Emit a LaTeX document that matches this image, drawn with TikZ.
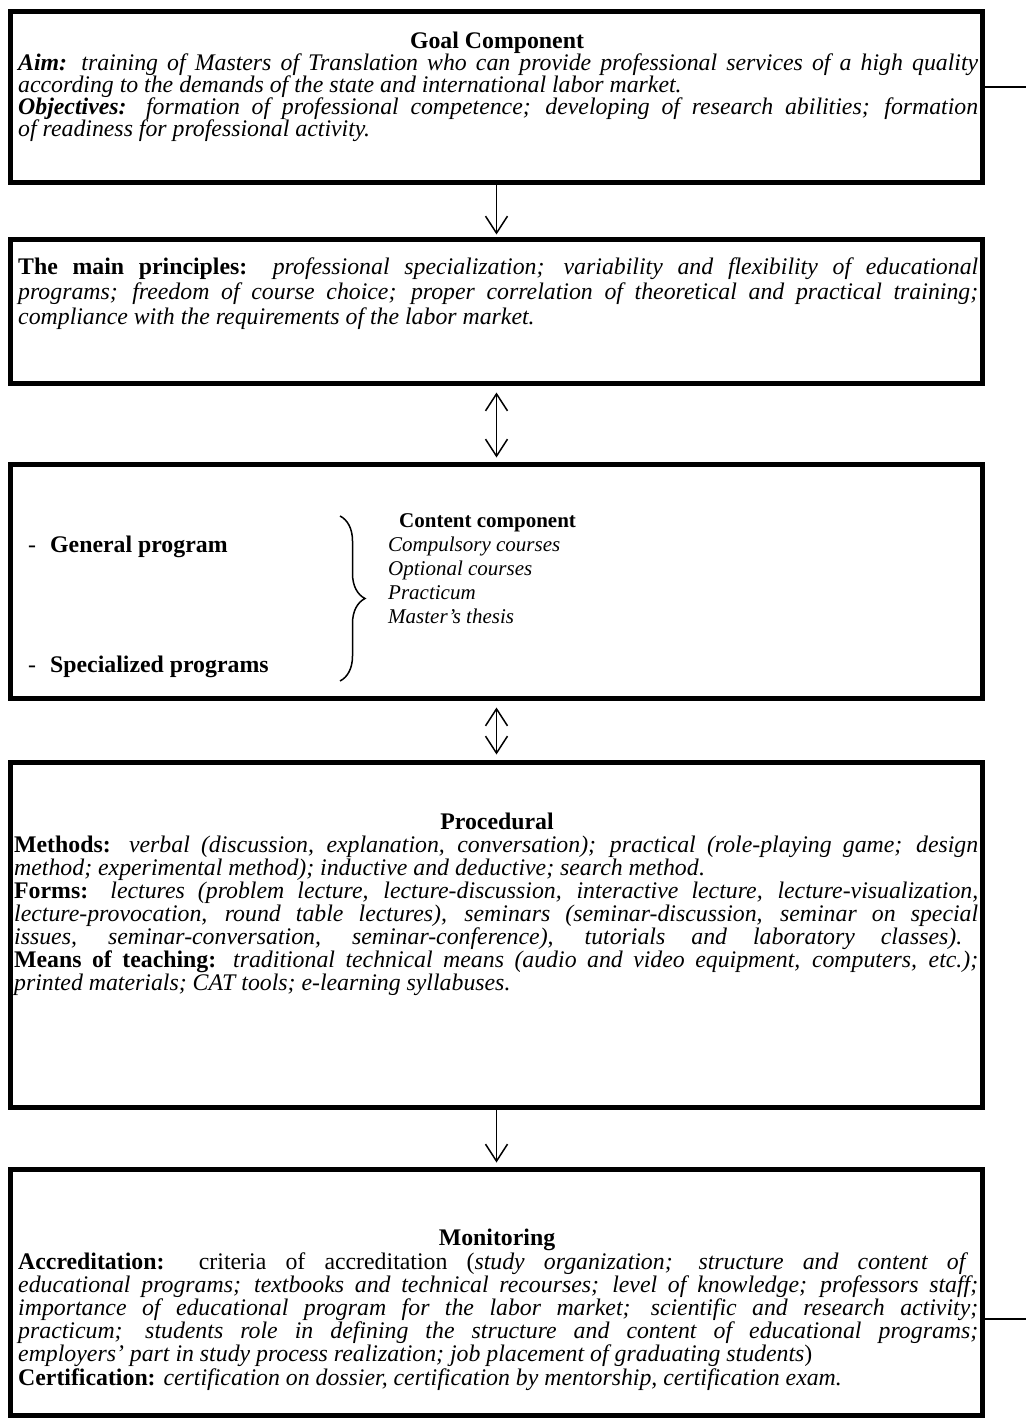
\documentclass[tikz,border=0pt]{standalone}
\usepackage{fontspec}
\setmainfont{Liberation Serif}
\usetikzlibrary{arrows.meta,decorations.pathreplacing}
\newcommand\fs{\fontsize{23.8}{23}\selectfont}
\newcommand\fsc{\fontsize{21}{23}\selectfont}
\tikzset{
  frame/.style={draw, line width=5pt, inner sep=0pt},
  txt/.style={anchor=base west, inner sep=0pt, font=\fs},
  ttl/.style={anchor=base, inner sep=0pt, font=\fs\bfseries},
  conn/.style={line width=1.5pt},
  harrow/.style={conn, -{Straight Barb[length=17pt,width=22pt]}},
  darrow/.style={conn, {Straight Barb[length=17pt,width=22pt]}-{Straight Barb[length=17pt,width=22pt]}}
}
\begin{document}
\begin{tikzpicture}[x=1pt,y=-1pt]
\useasboundingbox[fill=white] (0,0) rectangle (1026,1423);
% boxes
\node[frame, minimum width=972pt, minimum height=171pt] (goal) at (496.5,97) {};
\node[frame, minimum width=972pt, minimum height=144pt] (princ) at (496.5,311.5) {};
\node[frame, minimum width=972pt, minimum height=234pt] (cont) at (496.5,581.5) {};
\node[frame, minimum width=972pt, minimum height=345pt] (proc) at (496.5,935) {};
\node[frame, minimum width=972pt, minimum height=246pt] (mon) at (496.5,1292.5) {};
% connectors
\draw[harrow, shorten >=2.5pt] (goal.south) -- (princ.north);
\draw[darrow, shorten <=6.5pt, shorten >=4.5pt] (princ.south) -- (cont.north);
\draw[darrow, shorten <=6.5pt, shorten >=5.5pt] (cont.south) -- (proc.north);
\draw[harrow, shorten >=4.5pt] (proc.south) -- (mon.north);
\coordinate (e1) at (1026,87);
\coordinate (e2) at (1026,1319);
\draw[conn] (goal.east |- e1) -- (e1);
\draw[conn] (mon.east |- e2) -- (e2);
% goal text
\node[ttl] (g0) at (497,49) {Goal Component};
\node[txt] (g1) at (18,71) {\makebox[960pt][s]{\textbf{\textit{Aim:}} \textit{training of Masters of Translation who can provide professional services of a high quality}}};
\node[txt] (g2) at (18,93) {\textit{according to the demands of the state and international labor market.}};
\node[txt] (g3) at (18,115) {\makebox[960pt][s]{\textbf{\textit{Objectives:}} \textit{formation of professional competence; developing of research abilities; formation}}};
\node[txt] (g4) at (18,137) {\textit{of readiness for professional activity.}};
% principles text
\node[txt] (p1) at (18,274) {\makebox[960pt][s]{\textbf{The main principles:} \textit{professional specialization; variability and flexibility of educational}}};
\node[txt] (p2) at (18,299) {\makebox[960pt][s]{\textit{programs; freedom of course choice; proper correlation of theoretical and practical training;}}};
\node[txt] (p3) at (18,324) {\textit{compliance with the requirements of the labor market.}};
% content text
\node[txt] (d1) at (28,552) {-};
\node[txt, font=\fs\bfseries] (gp) at (50,552) {General program};
\node[txt] (d2) at (28,672) {-};
\node[txt, font=\fs\bfseries] (sp) at (50,672) {Specialized programs};
\node[txt, font=\fsc\bfseries] (cc) at (399,527) {Content component};
\node[txt, font=\fsc\itshape] (c1) at (388,551) {Compulsory courses};
\node[txt, font=\fsc\itshape] (c2) at (388,575) {Optional courses};
\node[txt, font=\fsc\itshape] (c3) at (388,599) {Practicum};
\node[txt, font=\fsc\itshape] (c4) at (388,623) {Master’s thesis};
\coordinate (bt) at (340,516);
\coordinate (bb) at (340,681);
\draw[conn, decorate, decoration={brace, amplitude=25pt}] (bt) -- (bb);
% procedural text
\node[ttl] (r0) at (497,829) {Procedural};
\node[txt] (r1) at (14,852) {\makebox[964pt][s]{\textbf{Methods:} \textit{verbal (discussion, explanation, conversation); practical (role-playing game; design}}};
\node[txt] (r2) at (14,875) {\textit{method; experimental method); inductive and deductive; search method}.};
\node[txt] (r3) at (14,898) {\makebox[964pt][s]{\textbf{Forms:} \textit{lectures (problem lecture, lecture-discussion, interactive lecture, lecture-visualization,}}};
\node[txt] (r4) at (14,921) {\makebox[964pt][s]{\textit{lecture-provocation, round table lectures), seminars (seminar-discussion, seminar on special}}};
\node[txt] (r5) at (14,944) {\makebox[948pt][s]{\textit{issues, seminar-conversation, seminar-conference), tutorials and laboratory classes).}}};
\node[txt] (r6) at (14,967) {\makebox[964pt][s]{\textbf{Means of teaching:} \textit{traditional technical means (audio and video equipment, computers, etc.);}}};
\node[txt] (r7) at (14,990) {\textit{printed materials; CAT tools; e-learning syllabuses.}};
% monitoring text
\node[ttl] (m0) at (497,1245) {Monitoring};
\node[txt] (m1) at (18,1269) {\makebox[950pt][s]{\textbf{Accreditation:} criteria of accreditation (\textit{study organization; structure and content of}}};
\node[txt] (m2) at (18,1292) {\makebox[960pt][s]{\textit{educational programs; textbooks and technical recourses; level of knowledge; professors staff;}}};
\node[txt] (m3) at (18,1315) {\makebox[960pt][s]{\textit{importance of educational program for the labor market; scientific and research activity;}}};
\node[txt] (m4) at (18,1338) {\makebox[960pt][s]{\textit{practicum; students role in defining the structure and content of educational programs;}}};
\node[txt] (m5) at (18,1361) {\textit{employers’ part in study process realization; job placement of graduating students})};
\node[txt] (m6) at (18,1385) {\textbf{Certification:} \textit{certification on dossier, certification by mentorship, certification exam.}};
\end{tikzpicture}
\end{document}
